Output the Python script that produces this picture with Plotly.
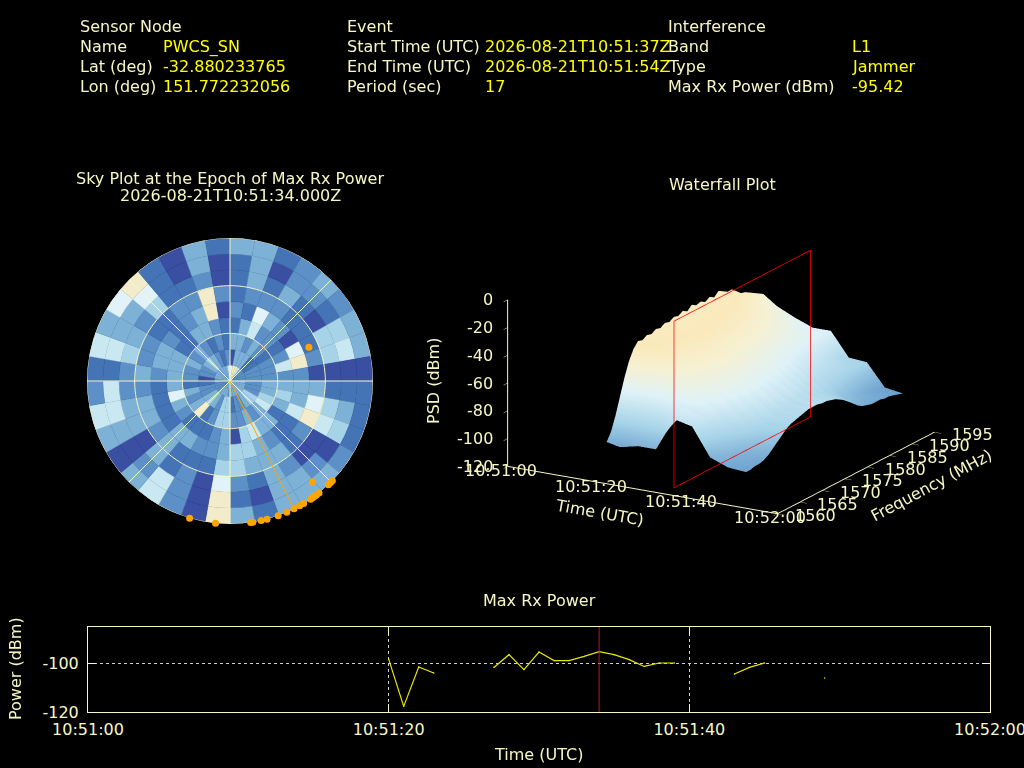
import plotly.graph_objects as go

INK = "#f7f7c4"
YEL = "#ffff00"
W, H = 1024, 768

# ---- header text
HEAD_COL_X = [80, 347, 668]
VAL_COL_X = [163, 485, 852]
ROW_Y = [26.5, 46.5, 66.5, 86.5]
HEAD_LABELS = [["Sensor Node", "Name", "Lat (deg)", "Lon (deg)"],
               ["Event", "Start Time (UTC)", "End Time (UTC)", "Period (sec)"],
               ["Interference", "Band", "Type", "Max Rx Power (dBm)"]]
HEAD_VALUES = [["", "PWCS_SN", "-32.880233765", "151.772232056"],
               ["", "2026-08-21T10:51:37Z", "2026-08-21T10:51:54Z", "17"],
               ["", "L1", "Jammer", "-95.42"]]

# ---- sky plot: level per 10 deg sector (az 5..355), per 10 deg ring from zenith
SKY_AZ = [5, 15, 25, 35, 45, 55, 65, 75, 85, 95, 105, 115, 125, 135, 145, 155, 165, 175,
          185, 195, 205, 215, 225, 235, 245, 255, 265, 275, 285, 295, 305, 315, 325, 335, 345, 355]
SKY_R00 = [6,7,7,5,3,2,2,2,2, 3,3,3,3,4,3,3,3,3, 2,3,3,3,3,2,2,2,2, 2,3,3,3,3,3,3,3,5]
SKY_R10 = [0,3,3,3,1,1,2,2,2, 2,2,2,4,4,3,2,2,1, 4,4,2,3,4,3,2,2,1, 0,2,2,3,4,3,2,1,2]
SKY_R20 = [3,3,2,3,2,1,2,2,2, 3,3,4,5,3,2,3,2,2, 4,4,2,1,7,3,2,3,1, 2,2,3,2,3,2,1,2,1]
SKY_R30 = [1,3,5,2,2,1,2,5,2, 3,4,3,1,3,3,5,4,0, 3,2,1,1,1,2,3,6,3, 3,3,3,1,1,3,3,2,1]
SKY_R40 = [2,1,6,3,2,0,6,7,2, 3,3,5,1,1,2,3,4,4, 3,2,2,3,3,1,1,1,1, 2,3,3,2,1,2,3,7,0]
SKY_R50 = [1,2,2,2,1,1,1,2,0, 3,6,7,2,1,3,3,3,4, 4,1,1,1,3,2,3,3,2, 3,2,2,1,1,2,2,7,2]
SKY_R60 = [1,3,1,3,1,0,4,4,0, 1,4,5,0,0,2,3,1,2, 6,0,2,1,3,0,3,3,2, 2,4,3,2,4,1,1,2,0]
SKY_R70 = [1,3,0,2,2,1,4,5,0, 1,3,4,0,2,3,3,0,1, 7,0,2,5,2,0,3,5,5, 1,5,3,3,6,1,0,3,0]
SKY_R80 = [3,3,1,2,3,2,3,3,0, 1,1,1,2,3,3,3,1,3, 7,0,2,5,3,0,3,5,2, 1,5,3,6,7,1,0,3,1]
SKY_RINGS = [SKY_R00, SKY_R10, SKY_R20, SKY_R30, SKY_R40, SKY_R50, SKY_R60, SKY_R70, SKY_R80]
SKY_LEVEL_COLORS = ["#3a4fa2", "#4574b6", "#5c90c6", "#7db1d6", "#a6d3e8", "#c9e8f2", "#e1f3f8", "#f2eccb"]

SAT_AZ = [66.9, 140.8, 134.3, 135.4, 136.5, 141.5, 142.8, 143.7, 144.7, 145.7, 149.0, 150.8,
          153.4, 156.6, 160.3, 165.0, 167.4, 170.8, 171.7, 185.8, 196.4]
SAT_ZEN = [54, 82, 90, 90, 90, 90, 90, 90, 90, 90, 90, 90, 90, 90, 90, 90, 90, 90, 90, 90, 90]
JAM_AZ = 153.4
JAM_ZEN = 89
RING_ZEN = [30, 60, 90]
SPOKE_AZ = [0, 45, 90, 135, 180, 225, 270, 315]

# ---- waterfall
WF_TIME = [22, 25, 29, 33, 37, 41, 45, 49, 53]
WF_FREQ = [1560, 1561, 1562, 1563, 1564, 1565, 1566, 1567, 1568, 1569, 1570, 1571, 1572, 1573, 1574, 1575, 1576, 1577,
           1578, 1579, 1580, 1581, 1582, 1583, 1584, 1585, 1586, 1587, 1588, 1589, 1590, 1591, 1592, 1593, 1594, 1595]
WF_T21 = [-90,-84,-74,-62,-50,-40,-33,-29,-30,-28,-29,-27,-28,-26,-27,-25,-26,-24,-26,-23,-25,-24,-26,-24,-26,-23,-25,-27,-27,-30,-33,-34,-36,-38,-40,-42]
WF_T25 = [-92,-86,-76,-64,-52,-42,-36,-32,-30,-33,-29,-31,-28,-30,-27,-29,-27,-30,-27,-29,-30,-28,-31,-29,-31,-30,-33,-34,-36,-37,-40,-41,-44,-45,-47,-49]
WF_T29 = [-89,-84,-75,-65,-55,-46,-40,-37,-35,-37,-33,-35,-32,-34,-31,-33,-32,-34,-32,-34,-34,-35,-35,-37,-36,-38,-39,-41,-42,-44,-45,-47,-49,-51,-53,-55]
WF_T33 = [-89,-82,-72,-62,-56,-48,-46,-42,-43,-40,-41,-39,-39,-38,-40,-38,-40,-39,-41,-40,-43,-41,-44,-43,-46,-45,-48,-48,-51,-51,-53,-55,-57,-58,-59,-60]
WF_T37 = [-65,-66,-60,-62,-54,-56,-50,-51,-47,-49,-45,-48,-44,-47,-44,-48,-46,-49,-47,-50,-49,-52,-51,-54,-53,-56,-55,-56,-56,-57,-58,-58,-59,-59,-60,-60]
WF_T41 = [-68,-70,-64,-67,-60,-63,-56,-60,-54,-58,-52,-57,-52,-56,-53,-58,-54,-59,-55,-60,-57,-61,-59,-63,-62,-65,-65,-66,-67,-68,-70,-71,-73,-75,-76,-77]
WF_T45 = [-88,-86,-82,-80,-76,-74,-68,-70,-64,-68,-62,-67,-61,-66,-62,-67,-62,-68,-64,-69,-66,-70,-68,-72,-71,-73,-74,-74,-75,-75,-76,-76,-77,-77,-78,-78]
WF_T49 = [-93,-92,-91,-90,-88,-85,-82,-80,-76,-77,-72,-75,-71,-74,-70,-74,-70,-74,-71,-75,-73,-77,-76,-80,-80,-83,-84,-85,-87,-88,-90,-91,-92,-93,-93,-94]
WF_T53 = [-94,-94,-93,-93,-92,-90,-87,-84,-81,-78,-76,-75,-74,-73,-72,-72,-72,-73,-73,-74,-75,-77,-79,-82,-85,-88,-90,-91,-92,-92,-92,-93,-93,-94,-95,-96]
WF_PSD = [WF_T21, WF_T25, WF_T29, WF_T33, WF_T37, WF_T41, WF_T45, WF_T49, WF_T53]
WF_TIME_TICKS = [0, 20, 40, 60]
WF_TIME_LABELS = ["10:51:00", "10:51:20", "10:51:40", "10:52:00"]
PSD_TICKS = [-120, -100, -80, -60, -40, -20, 0]
PSD_LABELS = ["-120", "-100", "-80", "-60", "-40", "-20", "0"]
FREQ_TICKS = [1560, 1565, 1570, 1575, 1580, 1585, 1590, 1595]
PLANE_T = 34.5
PLANE_F = [1562.5, 1593, 1593, 1562.5, 1562.5]
PLANE_Z = [-120, -120, 0, 0, -120]

# ---- max rx power
P_TIME = ["10:51:20", "10:51:21", "10:51:22", "10:51:23", "10:51:24",
          "10:51:27", "10:51:28", "10:51:29", "10:51:30", "10:51:31", "10:51:32", "10:51:33", "10:51:34",
          "10:51:35", "10:51:36", "10:51:37", "10:51:38", "10:51:39", "10:51:40",
          "10:51:43", "10:51:44", "10:51:45", "10:51:46", "10:51:49"]
P_VALUE = [-98.4, -117.7, -101.6, -104.1, None,
           -101.8, -96.6, -102.7, -95.5, -99, -99, -97.3, -95.4,
           -96.6, -98.6, -101.4, -100, -100, None,
           -104.5, -101.8, -100, None, -106.1]
DAY = "2026-08-21 "
PEAK_TIME = "10:51:34"

fig = go.Figure()

# sky
sky_theta, sky_base, sky_col = [], [], []
for i, ring in enumerate(SKY_RINGS):
    for az, lev in zip(SKY_AZ, ring):
        sky_theta.append(az)
        sky_base.append(i * 10)
        sky_col.append(SKY_LEVEL_COLORS[lev])
fig.add_trace(go.Barpolar(theta=sky_theta, base=sky_base, r=[10] * len(sky_theta), width=[10] * len(sky_theta),
                          marker=dict(color=sky_col, line=dict(color=sky_col, width=0.4)), subplot="polar", showlegend=False))
for z in RING_ZEN:
    fig.add_trace(go.Scatterpolar(r=[z] * 181, theta=list(range(0, 362, 2)), mode="lines",
                                  line=dict(color=INK, width=1), subplot="polar", showlegend=False))
for a in SPOKE_AZ:
    fig.add_trace(go.Scatterpolar(r=[0, 90], theta=[a, a], mode="lines",
                                  line=dict(color=INK, width=1), subplot="polar", showlegend=False))
fig.add_trace(go.Scatterpolar(r=[0, JAM_ZEN], theta=[JAM_AZ, JAM_AZ], mode="lines",
                              line=dict(color="#ffa500", width=1), subplot="polar", showlegend=False))
fig.add_trace(go.Scatterpolar(r=SAT_ZEN, theta=SAT_AZ, mode="markers", cliponaxis=False,
                              marker=dict(color="#ffa500", size=7), subplot="polar", showlegend=False))

# waterfall
fig.add_trace(go.Surface(x=WF_TIME, y=WF_FREQ, z=[list(c) for c in zip(*WF_PSD)], scene="scene", showscale=False,
                         cmin=-108, cmax=-18,
                         colorscale=[[0, "#4a7db9"], [0.15, "#6ea2cf"], [0.33, "#a6d3e8"], [0.55, "#dff2f8"],
                                     [0.72, "#f6f1d3"], [0.85, "#fae9bb"], [1, "#f8edc8"]],
                         lighting=dict(ambient=1, diffuse=0, specular=0, roughness=1, fresnel=0),
                         hoverinfo="skip"))
fig.add_trace(go.Scatter3d(x=[PLANE_T] * len(PLANE_F), y=PLANE_F, z=PLANE_Z, mode="lines",
                           line=dict(color="#ff0000", width=1.5), scene="scene2", showlegend=False))

# power
fig.add_trace(go.Scatter(x=[DAY + t for t in P_TIME], y=P_VALUE,
                         mode="lines+markers", line=dict(color="#e6e600", width=1.2),
                         marker=dict(size=1.5, color="#e6e600"), connectgaps=False,
                         xaxis="x", yaxis="y", showlegend=False))

ann = []
def txt(x, y, s, color=INK, size=16, anchor="left", angle=0):
    ann.append(dict(x=x / W, y=1 - y / H, xref="paper", yref="paper", text=s, showarrow=False,
                    xanchor=anchor, yanchor="middle", textangle=angle, borderpad=0, borderwidth=0,
                    font=dict(color=color, size=size, family="DejaVu Sans")))

for cx, vx, labs, vals in zip(HEAD_COL_X, VAL_COL_X, HEAD_LABELS, HEAD_VALUES):
    for y, l, v in zip(ROW_Y, labs, vals):
        txt(cx, y, l)
        if v:
            txt(vx, y, v, color=YEL)
txt(230, 178, "Sky Plot at the Epoch of Max Rx Power", anchor="center")
txt(230, 196, "2026-08-21T10:51:34.000Z", anchor="center")
txt(722, 185, "Waterfall Plot", anchor="center")
txt(539, 600, "Max Rx Power", anchor="center")
txt(538, 754, "Time (UTC)", anchor="center")
txt(15, 669, "Power (dBm)", anchor="center", angle=-90)
txt(433, 381, "PSD (dBm)", anchor="center", angle=-90)
txt(599, 512, "Time (UTC)", anchor="center", angle=10)
txt(931, 485, "Frequency (MHz)", anchor="center", angle=-28)

tickf = dict(color=INK, size=16, family="DejaVu Sans")
axis3d = dict(showgrid=False, zeroline=False, showbackground=False, showspikes=False, showline=True,
              linecolor=INK, linewidth=2, ticks="inside", tickcolor=INK, ticklen=8, showticklabels=False)
hidden3d = dict(visible=False)

# tick labels anchored in the 3D scene through its own axis scales
scene_ann = []
for t, lab in zip(WF_TIME_TICKS, WF_TIME_LABELS):
    scene_ann.append(dict(x=t, y=1560, z=-120, text=lab, showarrow=False, xshift=-7, yshift=-4, font=tickf))
for f in FREQ_TICKS:
    scene_ann.append(dict(x=60, y=f, z=-120, text=str(f), showarrow=False, xshift=38, yshift=-2, font=tickf))
for z, lab in zip(PSD_TICKS, PSD_LABELS):
    scene_ann.append(dict(x=0, y=1560, z=z, text=lab, showarrow=False, xanchor="right", xshift=-13, font=tickf))

cx, cy, half = 721, 366, 303
K = 2.32
S = 1.03
camera = dict(eye=dict(x=0.479 * K, y=-0.824 * K, z=0.302 * K), center=dict(x=0, y=0, z=0),
              up=dict(x=0, y=0, z=1), projection=dict(type="orthographic"))
dom = dict(x=[(cx - half) / W, (cx + half) / W], y=[1 - (cy + half) / H, 1 - (cy - half) / H])
aspect = dict(x=S, y=S, z=0.56 * S)
fig.update_layout(
    template="none",
    width=W, height=H, autosize=False, margin=dict(l=0, r=0, t=0, b=0, pad=0, autoexpand=False),
    paper_bgcolor="black", plot_bgcolor="black", annotations=ann, showlegend=False,
    polar=dict(domain=dict(x=[87 / W, 373 / W], y=[1 - 524 / H, 1 - 238 / H]), bgcolor="black",
               barmode="overlay",
               radialaxis=dict(visible=False, range=[0, 90]),
               angularaxis=dict(visible=False, direction="clockwise", rotation=90)),
    scene=dict(domain=dom, bgcolor="rgba(0,0,0,0)", annotations=scene_ann,
               aspectmode="manual", aspectratio=aspect, camera=camera,
               xaxis=dict(axis3d, title=dict(text=""), range=[0, 60], tickvals=WF_TIME_TICKS),
               yaxis=dict(axis3d, title=dict(text=""), range=[1560, 1595], tickvals=FREQ_TICKS),
               zaxis=dict(axis3d, title=dict(text=""), range=[-120, 0], tickvals=PSD_TICKS)),
    scene2=dict(domain=dom, bgcolor="rgba(0,0,0,0)",
                aspectmode="manual", aspectratio=aspect, camera=camera,
                xaxis=dict(hidden3d, range=[0, 60]),
                yaxis=dict(hidden3d, range=[1560, 1595]),
                zaxis=dict(hidden3d, range=[-120, 0])),
    xaxis=dict(domain=[88 / W, 990 / W], anchor="y", type="date", automargin=False, range=[DAY + "10:51:00", DAY + "10:52:00"],
               tickvals=[DAY + "10:51:00", DAY + "10:51:20", DAY + "10:51:40", DAY + "10:52:00"],
               tickformat="%H:%M:%S", ticklabeloverflow="allow", ticklabelstandoff=3, ticks="inside", ticklen=8, tickcolor=INK,
               showgrid=True, gridcolor="#cfcfcf", griddash="dot", gridwidth=1, zeroline=False,
               showline=True, linecolor=INK, linewidth=1, mirror="allticks", tickfont=tickf),
    yaxis=dict(domain=[1 - 712 / H, 1 - 627 / H], anchor="x", automargin=False, range=[-120, -85.3], tickvals=[-120, -100],
               ticktext=["-120", "-100"], ticklabeloverflow="allow", ticklabelstandoff=5, ticks="inside", ticklen=8, tickcolor=INK,
               showgrid=True, gridcolor="#cfcfcf", griddash="dot", gridwidth=1, zeroline=False,
               showline=True, linecolor=INK, linewidth=1, mirror="allticks", tickfont=tickf),
    shapes=[dict(type="line", xref="x", yref="y domain", x0=DAY + PEAK_TIME, x1=DAY + PEAK_TIME, y0=0, y1=1,
                 line=dict(color="#b01818", width=1))],
)

fig.write_html("out.html", config=dict(displayModeBar=False),
               post_script="document.body.style.margin='0';document.body.style.background='black';document.body.style.overflow='hidden';")
